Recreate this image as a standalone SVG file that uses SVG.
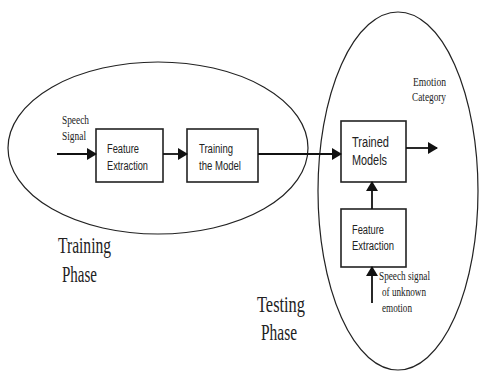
<svg xmlns="http://www.w3.org/2000/svg" width="480" height="372" viewBox="0 0 480 372">
<style>
.ell{fill:none;stroke:#222;stroke-width:1.2}
.box{fill:#fff;stroke:#222;stroke-width:1.6}
.ln{fill:none;stroke:#111;stroke-width:1.8}
.sans{font-family:"Liberation Sans",Arial,sans-serif;font-size:12px;fill:#222}
.serif{font-family:"Liberation Serif","Times New Roman",serif;fill:#222}
.sm{font-size:12px}
.lg{font-size:23px}
</style>
<defs>
<marker id="ah" markerWidth="10" markerHeight="12" refX="9" refY="6" orient="auto" markerUnits="userSpaceOnUse">
<path d="M0,0 L10,6 L0,12 Z" fill="#111"/>
</marker>
</defs>
<rect width="480" height="372" fill="#fff"/>
<g id="training-phase">
<ellipse class="ell" cx="158" cy="148" rx="150" ry="86"/>
<text class="serif lg" x="58" y="253" textLength="53" lengthAdjust="spacingAndGlyphs">Training</text>
<text class="serif lg" x="62" y="282" textLength="35" lengthAdjust="spacingAndGlyphs">Phase</text>
</g>
<g id="testing-phase">
<ellipse class="ell" cx="398" cy="191" rx="80" ry="179"/>
<text class="serif lg" x="257" y="312" textLength="48" lengthAdjust="spacingAndGlyphs">Testing</text>
<text class="serif lg" x="261" y="340" textLength="36" lengthAdjust="spacingAndGlyphs">Phase</text>
</g>
<g id="speech-signal">
<text class="serif sm" x="62" y="124" textLength="27" lengthAdjust="spacingAndGlyphs">Speech</text>
<text class="serif sm" x="62" y="140" textLength="24" lengthAdjust="spacingAndGlyphs">Signal</text>
</g>
<g id="feature-extraction-1">
<rect class="box" x="96" y="129" width="67" height="53"/>
<text class="sans" x="107" y="153" textLength="32" lengthAdjust="spacingAndGlyphs">Feature</text>
<text class="sans" x="107" y="170" textLength="41" lengthAdjust="spacingAndGlyphs">Extraction</text>
</g>
<g id="training-model">
<rect class="box" x="187" y="129" width="71" height="53"/>
<text class="sans" x="199" y="153" textLength="34" lengthAdjust="spacingAndGlyphs">Training</text>
<text class="sans" x="199" y="170" textLength="42" lengthAdjust="spacingAndGlyphs">the Model</text>
</g>
<g id="trained-models">
<rect class="box" x="341" y="121" width="65" height="61"/>
<text class="sans" x="352" y="147" style="font-size:14px" textLength="37" lengthAdjust="spacingAndGlyphs">Trained</text>
<text class="sans" x="352" y="165" style="font-size:14px" textLength="35" lengthAdjust="spacingAndGlyphs">Models</text>
</g>
<g id="feature-extraction-2">
<rect class="box" x="341" y="209" width="65" height="58"/>
<text class="sans" x="352" y="234" textLength="32" lengthAdjust="spacingAndGlyphs">Feature</text>
<text class="sans" x="352" y="250" textLength="42" lengthAdjust="spacingAndGlyphs">Extraction</text>
</g>
<g id="emotion-category">
<text class="serif sm" x="413" y="86" textLength="33" lengthAdjust="spacingAndGlyphs">Emotion</text>
<text class="serif sm" x="412" y="101" textLength="34" lengthAdjust="spacingAndGlyphs">Category</text>
</g>
<g id="unknown-signal">
<text class="serif sm" x="379" y="280" textLength="51" lengthAdjust="spacingAndGlyphs">Speech signal</text>
<text class="serif sm" x="382" y="296" textLength="44" lengthAdjust="spacingAndGlyphs">of unknown</text>
<text class="serif sm" x="382" y="312" textLength="30" lengthAdjust="spacingAndGlyphs">emotion</text>
</g>
<g id="connectors">
<line class="ln" x1="57" y1="154" x2="96" y2="154" marker-end="url(#ah)"/>
<line class="ln" x1="163" y1="154" x2="187" y2="154" marker-end="url(#ah)"/>
<line class="ln" x1="258" y1="154" x2="341" y2="154" marker-end="url(#ah)"/>
<line class="ln" x1="406" y1="148" x2="437" y2="148" marker-end="url(#ah)"/>
<line class="ln" x1="372" y1="209" x2="372" y2="182" marker-end="url(#ah)"/>
<line class="ln" x1="372" y1="303" x2="372" y2="267" marker-end="url(#ah)"/>
</g>
</svg>
